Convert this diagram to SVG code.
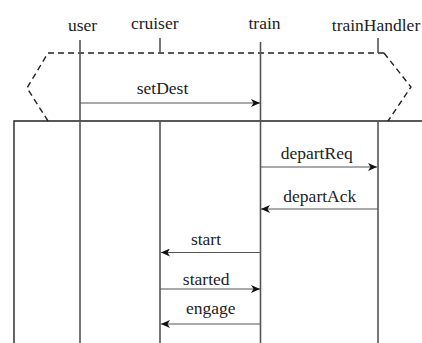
<svg xmlns="http://www.w3.org/2000/svg" width="422" height="343" viewBox="0 0 422 343">
<style>
text{font-family:'Liberation Serif','DejaVu Serif',serif;font-size:17.5px;fill:#222;text-anchor:middle}
.life{stroke:#555;stroke-width:1.6;fill:none}
.msg{stroke:#555;stroke-width:1.2;fill:none}
.dash{stroke:#222;stroke-width:1.4;fill:none;stroke-dasharray:6,4}
.frame{stroke:#222;stroke-width:1.4;fill:none}
</style>
<defs>
<marker id="ah" markerWidth="10" markerHeight="8" refX="9" refY="4" orient="auto" markerUnits="userSpaceOnUse">
<path d="M0,0 L9,4 L0,8 L2.5,4 Z" fill="#111"/>
</marker>
</defs>
<rect width="422" height="343" fill="#fff"/>
<g id="frame">
<path class="dash" d="M384,53 H48 L27,88 L48,121"/>
<path class="dash" d="M384,53 L411,87 L388,121"/>
<path class="frame" d="M14,343 V121 H422"/>
</g>
<g id="user">
<text x="82.5" y="30.5">user</text>
<line class="life" x1="80" y1="40" x2="80" y2="343"/>
</g>
<g id="cruiser">
<text x="154.7" y="29">cruiser</text>
<line class="life" x1="160" y1="38" x2="160" y2="53"/>
<line class="life" x1="160" y1="121" x2="160" y2="343"/>
</g>
<g id="train">
<text x="264.5" y="29">train</text>
<line class="life" x1="260.5" y1="42" x2="260.5" y2="343"/>
</g>
<g id="trainHandler">
<text x="376" y="31">trainHandler</text>
<line class="life" x1="378" y1="38" x2="378" y2="53"/>
<line class="life" x1="378" y1="121" x2="378" y2="343"/>
</g>
<g id="connectors">
<line class="msg" x1="80" y1="103" x2="260" y2="103" marker-end="url(#ah)"/>
<text x="162.5" y="94">setDest</text>
<line class="msg" x1="261" y1="167" x2="377" y2="167" marker-end="url(#ah)"/>
<text x="316.7" y="158.5">departReq</text>
<line class="msg" x1="378" y1="209" x2="261" y2="209" marker-end="url(#ah)"/>
<text x="319.8" y="201.5">departAck</text>
<line class="msg" x1="260" y1="252.5" x2="161" y2="252.5" marker-end="url(#ah)"/>
<text x="206" y="245">start</text>
<line class="msg" x1="160" y1="289" x2="260" y2="289" marker-end="url(#ah)"/>
<text x="206.2" y="285">started</text>
<line class="msg" x1="260" y1="324" x2="161" y2="324" marker-end="url(#ah)"/>
<text x="210.8" y="313.5">engage</text>
</g>
</svg>
